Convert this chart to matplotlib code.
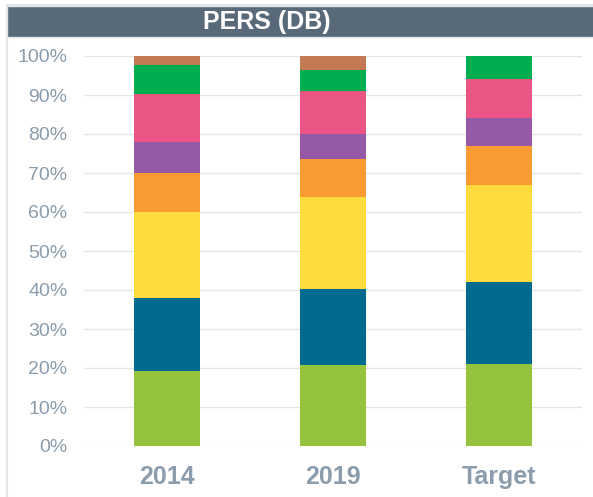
import matplotlib
matplotlib.use("Agg")
import matplotlib.pyplot as plt
from matplotlib.patches import Rectangle
from matplotlib.ticker import PercentFormatter

# Data (% of portfolio)
categories = ["2014", "2019", "Target"]
seg1 = [19.2, 20.7, 21.0]   # light green
seg2 = [18.7, 19.6, 21.0]   # blue
seg3 = [22.0, 23.5, 25.0]   # yellow
seg4 = [10.0, 9.8, 10.0]    # orange
seg5 = [8.1, 6.3, 7.0]      # purple
seg6 = [12.2, 11.0, 10.0]   # pink
seg7 = [7.5, 5.6, 6.0]      # green
seg8 = [2.3, 3.5, 0.0]      # brown

segments = [seg1, seg2, seg3, seg4, seg5, seg6, seg7, seg8]
colors = ["#96C33E", "#016A8F", "#FEDC3D", "#F99A33",
          "#9659A5", "#EB5583", "#00AE4F", "#C27954"]

plt.rcParams["font.family"] = ["Liberation Sans", "DejaVu Sans"]

fig = plt.figure(figsize=(5.93, 4.97), dpi=100)

# light frame around the whole chart
fig.patches.append(Rectangle((7 / 593, -0.01), 1, 1 - 4.5 / 497 + 0.01, transform=fig.transFigure,
                             fill=False, edgecolor="#E2E6EA", linewidth=1.5))
# title bar
fig.patches.append(Rectangle((7 / 593, 1 - 37 / 497), 1, 31 / 497, transform=fig.transFigure,
                             facecolor="#586A7A", edgecolor="#E2E6EA", linewidth=1))
fig.text(267 / 593, 1 - 22 / 497, "PERS (DB)", color="white", fontsize=18,
         fontweight="bold", ha="center", va="center")

ax = fig.add_axes([84 / 593, 51 / 497, 498 / 593, 390 / 497])

x = range(len(categories))
bottom = [0, 0, 0]
for vals, c in zip(segments, colors):
    ax.bar(x, vals, bottom=bottom, width=0.40, color=c, zorder=3)
    bottom = [b + v for b, v in zip(bottom, vals)]

ax.set_xlim(-0.5, 2.5)
ax.set_ylim(0, 100)
ax.set_yticks(range(0, 101, 10))
ax.yaxis.set_major_formatter(PercentFormatter(decimals=0))
ax.set_xticks(list(x))
ax.set_xticklabels(categories, fontsize=18, fontweight="bold", color="#8B9CAC")
ax.tick_params(axis="y", length=0, pad=12, labelsize=14, labelcolor="#8B9CAC")
ax.tick_params(axis="x", length=0, pad=14)
ax.grid(axis="y", color="#E3E6EA", linewidth=1, zorder=0)
for s in ax.spines.values():
    s.set_visible(False)

plt.savefig("out.png", dpi=100)
